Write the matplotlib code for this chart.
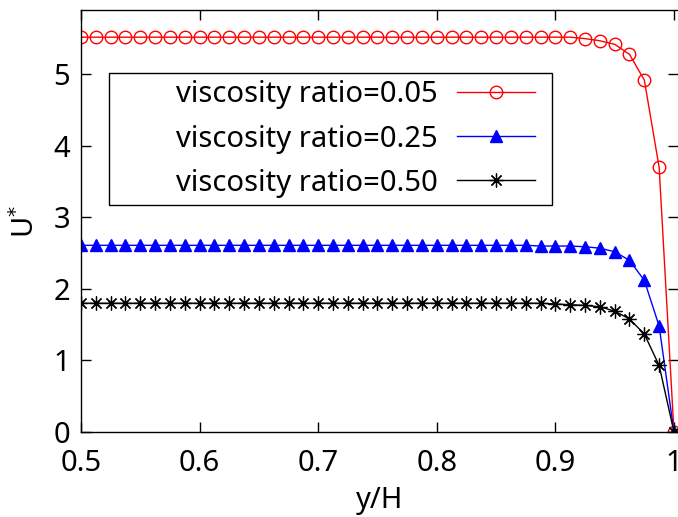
import numpy as np
import matplotlib
matplotlib.use("Agg")
import matplotlib.pyplot as plt
from matplotlib.patches import Rectangle

plt.rcParams['font.family'] = ['Noto Sans', 'DejaVu Sans']

# grid in y/H, 41 points from 0.5 to 1.0
yh = np.linspace(0.5, 1.0, 41)

u_005 = [5.52, 5.52, 5.52, 5.52, 5.52, 5.52, 5.52, 5.52, 5.52, 5.52,
         5.52, 5.52, 5.52, 5.52, 5.52, 5.52, 5.52, 5.52, 5.52, 5.52,
         5.52, 5.52, 5.52, 5.52, 5.52, 5.52, 5.52, 5.52, 5.52, 5.52,
         5.52, 5.52, 5.52, 5.52, 5.50, 5.47, 5.42, 5.28, 4.92, 3.70, 0.0]
u_025 = [2.61, 2.61, 2.61, 2.61, 2.61, 2.61, 2.61, 2.61, 2.61, 2.61,
         2.61, 2.61, 2.61, 2.61, 2.61, 2.61, 2.61, 2.61, 2.61, 2.61,
         2.61, 2.61, 2.61, 2.61, 2.61, 2.61, 2.61, 2.61, 2.61, 2.61,
         2.61, 2.60, 2.60, 2.60, 2.59, 2.57, 2.52, 2.40, 2.12, 1.48, 0.0]
u_050 = [1.80, 1.80, 1.80, 1.80, 1.80, 1.80, 1.80, 1.80, 1.80, 1.80,
         1.80, 1.80, 1.80, 1.80, 1.80, 1.80, 1.80, 1.80, 1.80, 1.80,
         1.80, 1.80, 1.80, 1.80, 1.80, 1.80, 1.80, 1.80, 1.80, 1.80,
         1.80, 1.80, 1.79, 1.78, 1.77, 1.75, 1.69, 1.58, 1.37, 0.93, 0.0]

labels = ['viscosity ratio=0.05', 'viscosity ratio=0.25', 'viscosity ratio=0.50']

W, H = 678, 517
fig = plt.figure(figsize=(W/100, H/100), dpi=100)
ax = fig.add_axes([81/W, 1-432/H, 1-81/W, (432-10)/H])

ax.plot(yh, u_005, color='red', lw=1, marker='o', ms=9, mfc='none', mew=1, label=labels[0])
ax.plot(yh, u_025, color='blue', lw=1, marker='^', ms=8.5, mec='blue', mfc='blue', label=labels[1])
ax.plot(yh, u_050, color='black', lw=1, marker=(8, 2, 0), ms=10, mew=0.9, label=labels[2])

ax.set_xlim(0.5, 1.0034)
ax.set_ylim(0, 5.9)
ax.set_xticks([0.5, 0.6, 0.7, 0.8, 0.9, 1.0])
ax.set_xticklabels(['0.5', '0.6', '0.7', '0.8', '0.9', '1'])
ax.set_yticks([0, 1, 2, 3, 4, 5])
ax.tick_params(direction='in', length=7, width=1, labelsize=21, top=True, right=True)
ax.tick_params(axis='x', pad=12)
ax.tick_params(axis='y', pad=8)
ax.spines['right'].set_visible(False)
for s in ['left', 'bottom', 'top']:
    ax.spines[s].set_linewidth(1)

ax.set_xlabel('y/H', fontsize=21, labelpad=6)
ax.set_ylabel('U$^{*}$', fontsize=21, labelpad=9)

# legend: text then sample, gnuplot style, box drawn separately
leg = ax.legend(loc='center right', bbox_to_anchor=(535/W, 1-139/H), bbox_transform=fig.transFigure,
                markerfirst=False, numpoints=1, fontsize=21, frameon=False,
                handlelength=78/29.2, handletextpad=0.65, labelspacing=0.52,
                borderpad=0, borderaxespad=0)
fig.patches.append(Rectangle((109/W, 1-205/H), (552-109)/W, (205-73)/H,
                             transform=fig.transFigure, fill=False, ec='black', lw=1))

fig.savefig('out.png', dpi=100)
